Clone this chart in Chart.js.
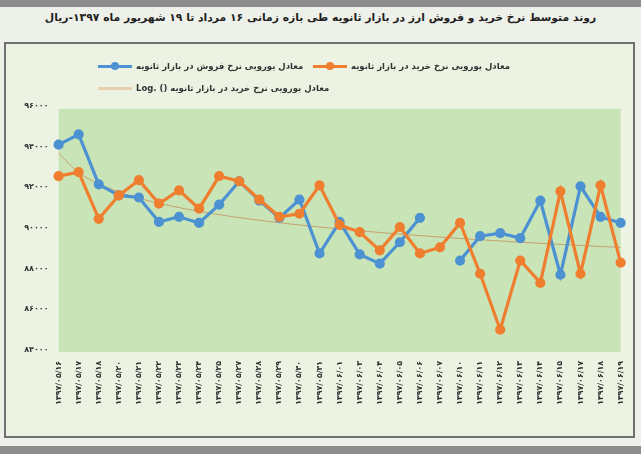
<!DOCTYPE html>
<html>
<head>
<meta charset="utf-8">
<script src="https://cdn.jsdelivr.net/npm/chart.js@4.4.1/dist/chart.umd.min.js"></script>
<style>
  body { margin: 0; width: 641px; height: 454px; overflow: hidden; position: relative;
         background: #8d8d8d; font-family: "DejaVu Sans", sans-serif; }
  #sheet { position: absolute; left: 0; top: 7px; width: 641px; height: 439px; background: #eef1ea; }
  #title { position: absolute; left: 0; top: 11px; width: 641px; text-align: center;
           direction: rtl; font-weight: bold; font-size: 10.8px; color: #1e1e1e; }
  #box { position: absolute; left: 4px; top: 42px; width: 627px; height: 392px;
         border: 2px solid #707070; background: #edf3e3; }
  #chart { position: absolute; left: 0; top: 0; }
  .item { position: absolute; display: flex; align-items: center; font-size: 8.5px; font-weight: bold; color: #333; }
  .mark { position: relative; width: 34px; height: 3px; margin-right: 4px; }
  .mark i { position: absolute; left: 13px; top: -2.5px; width: 8px; height: 8px; border-radius: 50%; }
  .txt { direction: rtl; white-space: nowrap; }
</style>
</head>
<body>
<div id="sheet"></div>
<div id="title">روند متوسط نرخ خرید و فروش ارز در بازار ثانویه طی بازه زمانی ۱۶ مرداد تا ۱۹ شهریور ماه ۱۳۹۷-ریال</div>
<div id="box"></div>
<canvas id="chart" width="641" height="454"></canvas>
<div id="legend"></div>
<script>
// تاریخ ها
const dates = [
  "۱۳۹۷/۰۵/۱۶", "۱۳۹۷/۰۵/۱۷", "۱۳۹۷/۰۵/۱۸", "۱۳۹۷/۰۵/۲۰", "۱۳۹۷/۰۵/۲۱", "۱۳۹۷/۰۵/۲۲",
  "۱۳۹۷/۰۵/۲۳", "۱۳۹۷/۰۵/۲۴", "۱۳۹۷/۰۵/۲۵", "۱۳۹۷/۰۵/۲۷", "۱۳۹۷/۰۵/۲۸", "۱۳۹۷/۰۵/۲۹",
  "۱۳۹۷/۰۵/۳۰", "۱۳۹۷/۰۵/۳۱", "۱۳۹۷/۰۶/۰۱", "۱۳۹۷/۰۶/۰۳", "۱۳۹۷/۰۶/۰۴", "۱۳۹۷/۰۶/۰۵",
  "۱۳۹۷/۰۶/۰۶", "۱۳۹۷/۰۶/۰۷", "۱۳۹۷/۰۶/۱۰", "۱۳۹۷/۰۶/۱۱", "۱۳۹۷/۰۶/۱۲", "۱۳۹۷/۰۶/۱۳",
  "۱۳۹۷/۰۶/۱۴", "۱۳۹۷/۰۶/۱۵", "۱۳۹۷/۰۶/۱۷", "۱۳۹۷/۰۶/۱۸", "۱۳۹۷/۰۶/۱۹"
];

// نرخ فروش (آبی) - روز ۰۶/۰۷ داده ندارد
const sellRate = [
  94100, 94600, 92150, 91600, 91500, 90300, 90550, 90250, 91150, 92300,
  91350, 90500, 91400, 88750, 90300, 88700, 88250, 89300, 90500, null,
  88400, 89600, 89750, 89500, 91350, 87700, 92050, 90550, 90250
];

// نرخ خرید (نارنجی)
const buyRate = [
  92550, 92750, 90450, 91600, 92350, 91200, 91850, 90950, 92550, 92300,
  91400, 90550, 90700, 92100, 90150, 89800, 88900, 90050, 88750, 89050,
  90250, 87750, 85000, 88400, 87300, 91800, 87750, 92100, 88300
];

const yTicks = [84000, 86000, 88000, 90000, 92000, 94000, 96000];

const seriesNames = {
  sell: "معادل یورویی نرخ فروش در بازار ثانویه",
  buy: "معادل یورویی نرخ خرید در بازار ثانویه",
  trend: "معادل یورویی نرخ خرید در بازار ثانویه ()"
};

const blue = "#4c92d3";
const orange = "#ef7e2f";
const trendColor = "rgba(196,146,96,0.85)";

// خط روند لگاریتمی مثل اکسل روی نرخ خرید
function logTrend(vals) {
  const xs = vals.map((_, i) => Math.log(i + 1));
  const n = vals.length;
  const mx = xs.reduce((a, b) => a + b, 0) / n;
  const my = vals.reduce((a, b) => a + b, 0) / n;
  let sxy = 0, sxx = 0;
  xs.forEach((x, i) => { sxy += (x - mx) * (vals[i] - my); sxx += (x - mx) * (x - mx); });
  const b = sxy / sxx;
  const a = my - b * mx;
  return xs.map(x => a + b * x);
}

function toFa(str) {
  return String(str).replace(/\d/g, d => "۰۱۲۳۴۵۶۷۸۹"[d]);
}

// legend ساده با html
function renderLegend() {
  const items = [
    { name: seriesNames.buy, color: orange, dot: true, left: 313, top: 61 },
    { name: seriesNames.sell, color: blue, dot: true, left: 98, top: 61 },
    { name: seriesNames.trend, color: "#e8cfae", dot: false, left: 98, top: 83, log: true }
  ];
  const legend = document.getElementById("legend");
  items.forEach(it => {
    const el = document.createElement("div");
    el.className = "item";
    el.style.left = it.left + "px";
    el.style.top = it.top + "px";
    el.innerHTML = `
      <span class="mark" style="background:${it.color}">${it.dot ? `<i style="background:${it.color}"></i>` : ""}</span>
      <span class="txt">${it.name}${it.log ? " <bdi>Log.</bdi>" : ""}</span>
    `;
    legend.appendChild(el);
  });
}

const plotBg = {
  id: "plotBg",
  beforeDraw(chart) {
    const { ctx, chartArea: a } = chart;
    ctx.save();
    ctx.fillStyle = "#c9e5b8";
    ctx.fillRect(a.left, a.top + 3, a.right - a.left, a.bottom - a.top - 1);
    ctx.restore();
  }
};

const ctx = document.getElementById("chart").getContext("2d");
new Chart(ctx, {
  type: "line",
  data: {
    labels: dates,
    datasets: [
      {
        label: seriesNames.buy,
        data: buyRate,
        borderColor: orange,
        backgroundColor: orange,
        borderWidth: 3.2,
        pointRadius: 3.5,
        tension: 0
      },
      {
        label: seriesNames.sell,
        data: sellRate,
        borderColor: blue,
        backgroundColor: blue,
        borderWidth: 3.2,
        pointRadius: 3.5,
        spanGaps: false,
        tension: 0
      },
      {
        label: seriesNames.trend,
        data: logTrend(buyRate),
        borderColor: trendColor,
        borderWidth: 1,
        pointRadius: 0,
        tension: 0.4
      }
    ]
  },
  options: {
    responsive: false,
    animation: false,
    layout: { padding: { top: 106, right: 19.6, bottom: 20, left: 0 } },
    plugins: {
      legend: { display: false },
      tooltip: { enabled: false }
    },
    scales: {
      x: {
        grid: { display: false, drawTicks: false },
        border: { display: false },
        afterFit: s => { s.height = 84; },
        ticks: {
          autoSkip: false,
          minRotation: 90,
          maxRotation: 90,
          padding: 11,
          color: "#2b2b2b",
          font: { family: "DejaVu Sans", size: 7.8, weight: "bold" }
        }
      },
      y: {
        min: yTicks[0],
        max: yTicks[yTicks.length - 1],
        afterBuildTicks: s => { s.ticks = yTicks.map(v => ({ value: v })); },
        afterFit: s => { s.width = 58.6; },
        grid: { display: false, drawTicks: false },
        border: { display: false },
        ticks: {
          padding: 10,
          color: "#333",
          font: { family: "DejaVu Sans", size: 8, weight: "bold" },
          callback: v => toFa(v)
        }
      }
    }
  },
  plugins: [plotBg]
});

renderLegend();
</script>
</body>
</html>
